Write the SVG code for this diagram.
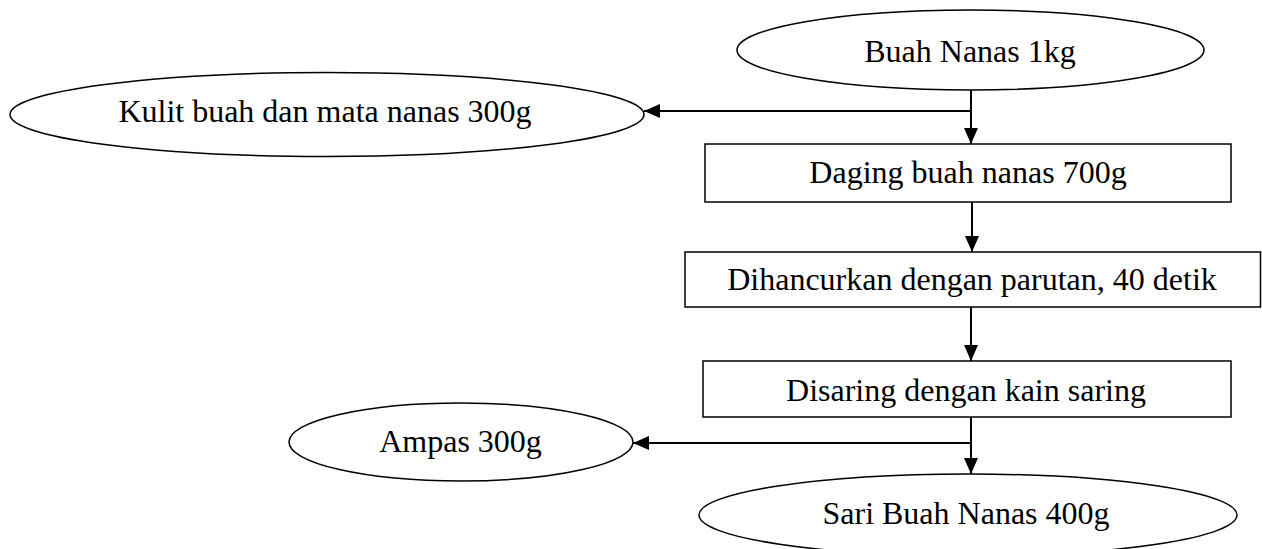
<svg xmlns="http://www.w3.org/2000/svg" width="1262" height="549" viewBox="0 0 1262 549">
<style>
.shape{fill:#fff;stroke:#000;stroke-width:1.5}
.lbl{font-family:"Liberation Serif","Times New Roman",serif;font-size:32px;fill:#000;text-anchor:middle}
.con{fill:none;stroke:#000;stroke-width:2}
</style>
<defs>
<marker id="arr" viewBox="0 0 16 14" refX="16" refY="7" markerWidth="16" markerHeight="14" markerUnits="userSpaceOnUse" orient="auto">
<path d="M0,0 L16,7 L0,14 Z" fill="#000"/>
</marker>
</defs>
<rect width="1262" height="549" fill="#fff"/>
<g id="n-buah">
<ellipse class="shape" cx="970.5" cy="50" rx="233.5" ry="40"/>
<text class="lbl" x="970" y="62">Buah Nanas 1kg</text>
</g>
<g id="n-kulit">
<ellipse class="shape" cx="327" cy="114.5" rx="317" ry="42"/>
<text class="lbl" x="325" y="122">Kulit buah dan mata nanas 300g</text>
</g>
<g id="n-daging">
<rect class="shape" x="705" y="144" width="526" height="58"/>
<text class="lbl" x="968" y="183">Daging buah nanas 700g</text>
</g>
<g id="n-hancur">
<rect class="shape" x="685" y="252" width="575.5" height="55"/>
<text class="lbl" x="972" y="290">Dihancurkan dengan parutan, 40 detik</text>
</g>
<g id="n-saring">
<rect class="shape" x="703" y="361" width="528" height="56"/>
<text class="lbl" x="966" y="401">Disaring dengan kain saring</text>
</g>
<g id="n-ampas">
<ellipse class="shape" cx="461" cy="442" rx="172" ry="39"/>
<text class="lbl" x="460.5" y="452">Ampas 300g</text>
</g>
<g id="n-sari">
<ellipse class="shape" cx="968" cy="515" rx="269" ry="41"/>
<text class="lbl" x="966" y="524">Sari Buah Nanas 400g</text>
</g>
<g id="connectors">
<line class="con" x1="971" y1="90" x2="971" y2="144" marker-end="url(#arr)"/>
<line class="con" x1="971" y1="111" x2="644" y2="111" marker-end="url(#arr)"/>
<line class="con" x1="972" y1="202" x2="972" y2="252" marker-end="url(#arr)"/>
<line class="con" x1="971" y1="307" x2="971" y2="361" marker-end="url(#arr)"/>
<line class="con" x1="971" y1="417" x2="971" y2="474" marker-end="url(#arr)"/>
<line class="con" x1="971" y1="443" x2="633" y2="443" marker-end="url(#arr)"/>
</g>
</svg>
